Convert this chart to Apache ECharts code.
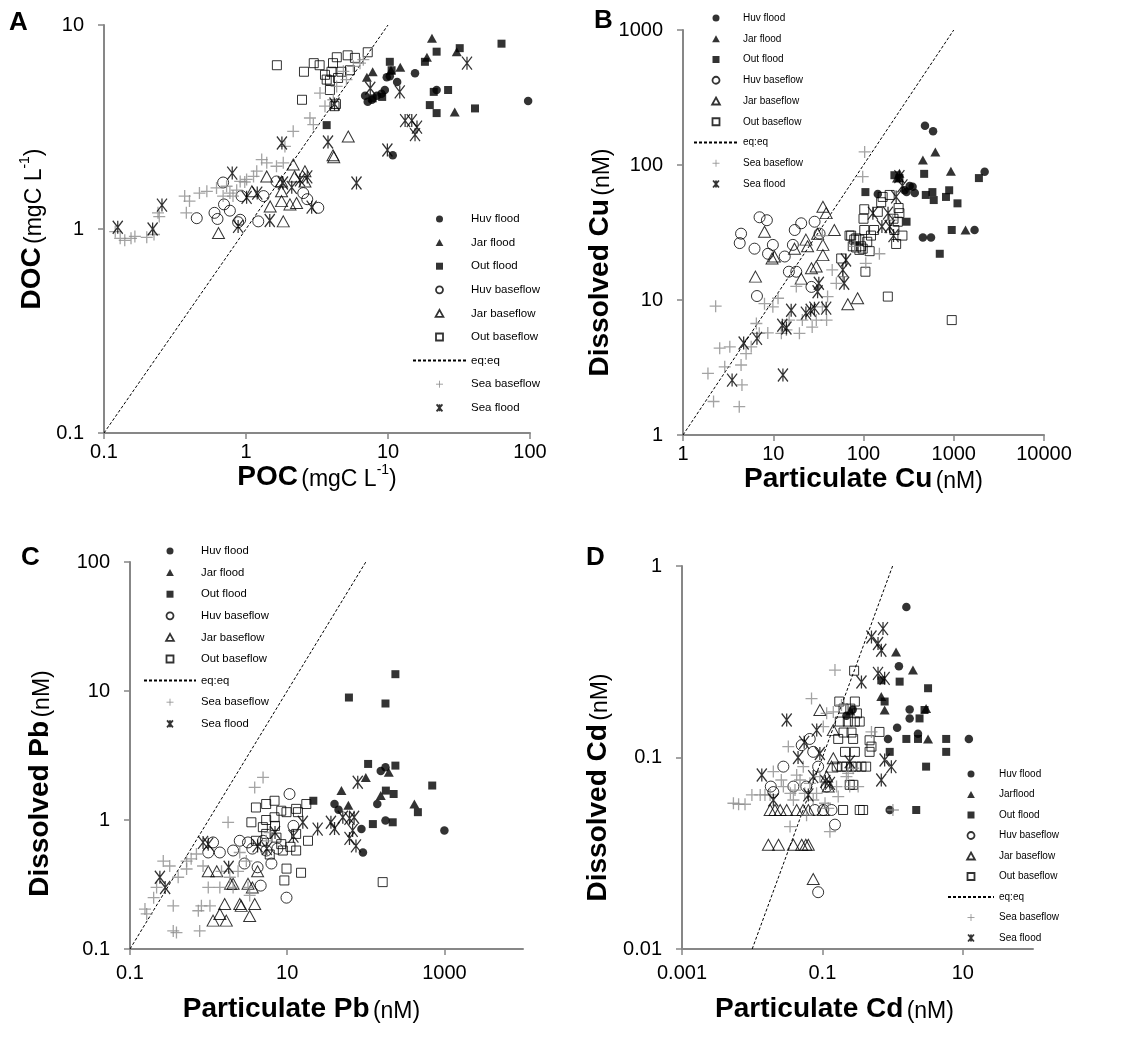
<!DOCTYPE html>
<html><head><meta charset="utf-8">
<script src="https://cdn.jsdelivr.net/npm/echarts@6/dist/echarts.min.js"></script>
<style>html,body{margin:0;padding:0;background:#fff}#c{width:1142px;height:1044px}</style>
</head><body><div id="c"></div>
<script>
// ---------- Panel A : POC vs DOC (mgC L-1) ----------
const A_huvFlood = [[15.5,5.8],[11.6,5.25],[9.8,5.55],[9.5,4.8],[8.35,4.5],[6.9,4.5],[7.2,4.2],[7.7,4.3],[10.8,2.3],[22,4.8],[97,4.24],[10.3,5.6],[9.0,4.6]];
const A_jarFlood = [[20.4,8.6],[18.8,6.95],[30.5,7.4],[12.2,6.2],[7.8,5.9],[7.1,5.55],[29.5,3.75],[10.5,6.0]];
const A_outFlood = [[3.7,3.23],[7.8,4.37],[9.1,4.44],[10.3,6.6],[10.6,6.0],[18.2,6.6],[22,7.4],[32,7.7],[63,8.1],[21,4.7],[26.5,4.8],[19.7,4.05],[22,3.7],[41,3.9]];
const A_huvBase = [[0.45,1.13],[0.6,1.2],[0.63,1.12],[0.7,1.32],[0.77,1.23],[0.69,1.69],[0.93,1.45],[0.91,1.11],[1.22,1.09],[1.33,1.45],[1.64,1.71],[2.53,1.5],[3.23,1.27],[2.7,1.4],[0.88,1.08]];
const A_jarBase = [[0.64,0.955],[1.1,1.53],[1.4,1.81],[1.48,1.29],[1.83,1.09],[1.78,1.53],[1.78,1.37],[1.78,1.71],[2.04,1.32],[2.15,2.07],[2.2,1.81],[2.27,1.34],[2.6,1.92],[2.6,1.71],[4.1,2.3],[4.15,2.25],[5.25,2.84]];
const A_outBase = [[1.65,6.35],[2.56,5.9],[2.48,4.3],[3.0,6.5],[3.3,6.35],[3.6,5.7],[3.9,4.8],[3.9,5.35],[4.2,4.0],[4.36,6.95],[4.45,5.5],[5.2,7.1],[5.85,6.9],[4.7,5.9],[4.0,5.9],[4.1,6.5],[7.2,7.35],[5.4,6.0],[4.3,4.1],[3.7,5.4]];
const A_seaBase = [[0.12,0.97],[0.13,0.9],[0.14,0.88],[0.155,0.9],[0.165,0.92],[0.2,0.91],[0.225,0.94],[0.245,1.15],[0.24,1.2],[0.37,1.45],[0.4,1.37],[0.38,1.2],[0.47,1.5],[0.53,1.53],[0.62,1.59],[0.73,1.62],[0.77,1.5],[0.86,1.55],[0.91,1.71],[0.98,1.7],[1.01,1.75],[1.13,1.81],[1.19,1.92],[1.29,2.19],[1.4,2.11],[1.64,2.03],[1.83,2.11],[1.88,2.54],[2.15,3.01],[2.82,3.5],[2.98,3.25],[3.32,4.64],[3.6,4.0],[4.12,4.3],[4.35,5.0],[4.85,5.93],[5.1,5.4],[5.7,6.27],[6.35,6.5],[6.7,6.76],[0.69,1.45],[0.81,1.45]];
const A_seaFlood = [[0.125,1.02],[0.22,1.0],[0.256,1.31],[0.8,1.88],[0.88,1.03],[1.01,1.43],[1.2,1.5],[1.47,1.1],[1.79,2.64],[1.82,1.68],[2.1,1.6],[2.4,1.74],[2.7,1.8],[2.9,1.28],[3.78,2.67],[4.2,4.1],[6.0,1.68],[7.5,4.9],[9.9,2.44],[12.1,4.7],[13.2,3.4],[14.7,3.4],[16,3.16],[15.5,2.9],[36,6.5]];
const A_eq = [[0.1,0.1],[10,10]];

// ---------- Panel B : Cu (nM) ----------
const B_huvFlood = [[480,195],[590,178],[144,61],[300,63],[370,62],[350,69],[455,29],[560,29],[1700,33],[2200,89],[325,70],[285,65]];
const B_jarFlood = [[455,109],[625,125],[930,90],[250,87],[1350,33],[235,80]];
const B_outFlood = [[105,63],[220,84],[250,80],[470,86],[490,60],[580,63],[600,55],[820,58],[890,65],[1100,52],[950,33],[700,22],[1900,80],[300,38]];
const B_huvBase = [[4.4,31],[4.25,26.4],[6.2,24],[7.05,41],[8.5,39],[6.6,10.7],[9.9,25.6],[8.75,22],[13.4,21],[14.9,16.2],[16.5,25.6],[17.3,33],[20.4,37],[18,16.2],[28.7,38],[26.5,12.5],[32.6,31]];
const B_jarBase = [[8.0,32],[6.35,14.9],[9.7,20.3],[17.2,24],[23,28],[24,25],[31,31],[35.5,49],[38.6,44],[47.5,33],[35.5,21.5],[35.5,25.6],[26.5,17.2],[20.4,14.4],[29.9,17.7],[67,9.3],[86,10.3],[10.3,21]];
const B_outBase = [[56.6,20.3],[70,30],[79,28],[76,25],[83,28.6],[90,28],[94,25],[98,24],[102,33],[100,40],[102,47],[105,16.2],[117,23],[157,53],[163,58],[195,60],[186,10.6],[220,33],[230,26],[250,44],[270,30],[245,48],[950,7.1],[121,30],[131,33],[90,23.5],[73,30],[83,24.5],[144,45],[240,38],[215,40],[110,27]];
const B_seaBase = [[1.89,2.86],[2.3,9.0],[2.18,1.77],[2.55,4.4],[3.3,4.5],[2.9,3.2],[4.2,1.62],[4.5,2.35],[4.4,3.3],[5.0,4.0],[5.7,4.5],[6.5,6.7],[7.0,5.66],[8.0,9.4],[8.7,5.7],[9.9,8.9],[11.3,10.3],[12.3,5.66],[14,6.0],[15,7.1],[18,12.6],[19.5,5.66],[21,7.1],[27,6.3],[30,7.1],[35,8.9],[40,10.6],[39,7.1],[45,16.7],[50,13.3],[59,14.9],[98,82],[103,125],[106,18.7],[150,22],[210,39],[35,30],[80,25]];
const B_seaFlood = [[3.5,2.55],[4.7,4.8],[6.6,5.2],[12.6,6.5],[14,6.2],[12.8,2.78],[15.8,8.4],[23,8.0],[26,8.4],[28.6,8.7],[32,13.3],[31,11.5],[38.6,8.7],[59,16.7],[61,13.3],[64,19.8],[127,44],[187,44],[195,35],[230,58],[250,82],[270,70],[160,35],[215,30]];
const B_eq = [[1,1],[1000,1000]];

// ---------- Panel C : Pb (nM) ----------
const C_huvFlood = [[92,0.56],[40,1.33],[140,1.33],[155,2.4],[178,2.56],[178,0.99],[1000,0.83],[88,0.85],[45,1.2]];
const C_jarFlood = [[49,1.69],[100,2.14],[155,1.55],[196,2.34],[415,1.33],[60,1.3]];
const C_outFlood = [[61,8.9],[178,8.0],[238,13.5],[21.5,1.41],[107,2.72],[238,2.64],[180,1.69],[226,1.59],[123,0.93],[220,0.96],[700,1.85],[460,1.15]];
const C_huvBase = [[1.14,0.67],[0.99,0.56],[1.39,0.56],[2.05,0.58],[2.49,0.69],[2.86,0.46],[3.17,0.67],[3.6,0.6],[4.2,0.43],[4.6,0.31],[4.93,0.69],[5.43,0.58],[6.3,0.46],[9.8,0.25],[10.7,1.59],[7.5,0.6],[12,0.9]];
const C_jarBase = [[1.14,0.166],[1.39,0.187],[1.68,0.166],[1.6,0.223],[0.99,0.40],[1.27,0.40],[2.05,0.32],[2.49,0.223],[2.6,0.216],[3.33,0.18],[3.17,0.32],[3.86,0.223],[4.2,0.40],[3.6,0.30],[1.9,0.32]];
const C_outBase = [[3.5,0.96],[4.0,1.25],[5.4,1.33],[6.9,1.41],[8.4,1.18],[9.8,1.15],[13,1.22],[17.5,1.33],[13.7,1.15],[5.4,1.0],[4.9,0.88],[5.4,0.78],[7.3,0.73],[8.4,0.65],[8.8,0.58],[9.8,0.42],[9.2,0.34],[15,0.39],[13,0.58],[13,0.78],[18.4,0.69],[6,0.54],[4,0.69],[6.9,1.05],[11,0.62],[7,0.9],[164,0.33]];
const C_seaBase = [[0.155,0.204],[0.163,0.187],[0.218,0.30],[0.265,0.48],[0.32,0.44],[0.355,0.216],[0.355,0.138],[0.39,0.134],[0.41,0.36],[0.525,0.417],[0.525,0.48],[0.70,0.545],[0.74,0.198],[0.77,0.138],[0.81,0.216],[0.85,0.44],[0.99,0.30],[1.04,0.216],[1.39,0.30],[1.46,0.40],[1.77,0.96],[1.86,0.36],[2.05,0.30],[2.37,0.40],[2.49,0.56],[3.02,0.48],[3.17,0.30],[3.33,0.26],[3.86,1.79],[4.93,2.14],[5.43,0.69],[5.99,0.80],[0.6,0.5],[0.2,0.25]];
const C_seaFlood = [[0.24,0.36],[0.28,0.30],[0.85,0.67],[0.99,0.65],[1.8,0.43],[4.2,0.63],[5.5,0.6],[7,0.8],[12,0.75],[15.8,0.96],[24.4,0.85],[36,0.96],[40,0.86],[51,1.05],[62,1.03],[71,1.05],[62,0.72],[75,0.63],[68,0.83],[79,1.96]];
const C_eq = [[0.1,0.1],[100,100]];

// ---------- Panel D : Cd (nM) ----------
const D_huvFlood = [[1.57,0.611],[1.23,0.30],[1.75,0.178],[1.75,0.16],[1.16,0.143],[0.86,0.125],[2.3,0.133],[12.2,0.125],[0.91,0.0532],[0.27,0.178],[0.22,0.165]];
const D_jarFlood = [[1.12,0.356],[1.95,0.286],[0.69,0.208],[0.77,0.177],[3.2,0.125],[3.0,0.18],[0.25,0.175]];
const D_outFlood = [[0.69,0.253],[0.77,0.196],[1.26,0.249],[3.2,0.23],[2.42,0.16],[2.85,0.177],[0.91,0.107],[1.57,0.125],[2.3,0.125],[5.8,0.125],[5.8,0.107],[3.0,0.0896],[2.17,0.0532]];
const D_huvBase = [[0.0184,0.0705],[0.0278,0.0896],[0.0386,0.0705],[0.0507,0.116],[0.066,0.125],[0.074,0.107],[0.087,0.0896],[0.059,0.0705],[0.103,0.0532],[0.135,0.0532],[0.151,0.0446],[0.087,0.0198],[0.078,0.0532],[0.115,0.0705],[0.02,0.066]];
const D_jarBase = [[0.017,0.035],[0.0237,0.035],[0.0386,0.035],[0.0507,0.035],[0.063,0.035],[0.058,0.035],[0.018,0.0532],[0.0211,0.0532],[0.025,0.0532],[0.031,0.0532],[0.053,0.0532],[0.063,0.0532],[0.092,0.177],[0.143,0.139],[0.143,0.099],[0.135,0.0896],[0.115,0.0795],[0.121,0.0705],[0.074,0.0232],[0.103,0.0532],[0.043,0.0532]];
const D_outBase = [[0.283,0.284],[0.174,0.196],[0.29,0.196],[0.2,0.18],[0.25,0.18],[0.177,0.154],[0.23,0.154],[0.29,0.154],[0.34,0.154],[0.168,0.125],[0.274,0.125],[0.47,0.123],[0.65,0.136],[0.50,0.114],[0.21,0.107],[0.29,0.107],[0.47,0.107],[0.16,0.0896],[0.19,0.0896],[0.22,0.0896],[0.26,0.0896],[0.3,0.0896],[0.36,0.0896],[0.42,0.0896],[0.245,0.072],[0.274,0.072],[0.197,0.0532],[0.34,0.0532],[0.38,0.0532],[0.2,0.135],[0.26,0.135],[0.31,0.17]];
const D_seaBase = [[0.0054,0.0577],[0.0064,0.057],[0.0079,0.057],[0.0099,0.0638],[0.013,0.0638],[0.0152,0.0638],[0.018,0.0638],[0.020,0.0844],[0.026,0.0763],[0.0278,0.0705],[0.0327,0.114],[0.0346,0.0436],[0.0386,0.06],[0.0407,0.0676],[0.043,0.081],[0.048,0.0763],[0.0534,0.0896],[0.056,0.065],[0.0595,0.05],[0.0664,0.0733],[0.070,0.203],[0.074,0.06],[0.0826,0.065],[0.092,0.0795],[0.103,0.145],[0.109,0.0577],[0.115,0.17],[0.121,0.0543],[0.128,0.041],[0.143,0.173],[0.151,0.286],[0.159,0.0705],[0.168,0.0625],[0.187,0.188],[0.22,0.0795],[0.233,0.0827],[0.245,0.0705],[0.274,0.0879],[0.323,0.0705],[0.50,0.136],[1.01,0.0532],[0.035,0.065]];
const D_seaFlood = [[0.0137,0.081],[0.020,0.060],[0.031,0.157],[0.045,0.1],[0.063,0.0638],[0.083,0.139],[0.074,0.0795],[0.092,0.105],[0.128,0.0733],[0.245,0.095],[0.36,0.248],[0.50,0.426],[0.62,0.394],[0.69,0.363],[0.73,0.471],[0.62,0.275],[0.77,0.259],[0.77,0.097],[0.96,0.0896],[0.69,0.0763],[0.11,0.075],[0.055,0.12]];
const D_eq = [[0.01,0.01],[1,1]];

// legend labels
const legendA = ['Huv flood','Jar flood','Out flood','Huv baseflow','Jar baseflow','Out baseflow','eq:eq','Sea baseflow','Sea flood'];
const legendD = ['Huv flood','Jarflood','Out flood','Huv baseflow','Jar baseflow','Out baseflow','eq:eq','Sea baseflow','Sea flood'];
// axis ranges / tick labels
const xRanges = [[0.1,100],[1,10000],[0.1,10000],[0.001,100]];
const yRanges = [[0.1,10],[1,1000],[0.1,100],[0.01,1]];
const xIntervals = [1,1,2,2];
const showXMax = [true,true,false,false];
const panelLetters = ['A','B','C','D'];

const FONT = '"Liberation Sans", Arial, Helvetica, sans-serif';
const ASTER = 'path://M0,0L10,12M10,0L0,12M5,0L5,12';
const PLUS = 'path://M5,0L5,10M0,5L10,5';
const TRI = 'path://M5,0L10,9L0,9Z';
const SQR = 'path://M0,0L10,0L10,10L0,10Z';
const OPEN = 'rgba(0,0,0,0)';
const STY = {
  'Huv flood':    {symbol:'circle', symbolSize:8.5, itemStyle:{color:'#000'}},
  'Jar flood':    {symbol:'triangle', symbolSize:[10,9], legendIcon:TRI, itemStyle:{color:'#000'}},
  'Out flood':    {symbol:'rect', symbolSize:8, legendIcon:SQR, itemStyle:{color:'#000'}},
  'Huv baseflow': {symbol:'circle', symbolSize:11, itemStyle:{color:OPEN, borderColor:'#000', borderWidth:1}},
  'Jar baseflow': {symbol:'triangle', symbolSize:[12,11], legendIcon:TRI, itemStyle:{color:OPEN, borderColor:'#000', borderWidth:1}},
  'Out baseflow': {symbol:'rect', symbolSize:9, legendIcon:SQR, itemStyle:{color:OPEN, borderColor:'#000', borderWidth:1}},
  'Sea baseflow': {symbol:PLUS, symbolSize:12, itemStyle:{color:OPEN, borderColor:'#8c8c8c', borderWidth:1.3}},
  'Sea flood':    {symbol:ASTER, symbolSize:[12,13], itemStyle:{color:OPEN, borderColor:'#000', borderWidth:1.3}}
};

const panelData = [
  {names:legendA, sets:[A_huvFlood,A_jarFlood,A_outFlood,A_huvBase,A_jarBase,A_outBase,A_eq,A_seaBase,A_seaFlood]},
  {names:legendA, sets:[B_huvFlood,B_jarFlood,B_outFlood,B_huvBase,B_jarBase,B_outBase,B_eq,B_seaBase,B_seaFlood]},
  {names:legendA, sets:[C_huvFlood,C_jarFlood,C_outFlood,C_huvBase,C_jarBase,C_outBase,C_eq,C_seaBase,C_seaFlood]},
  {names:legendD, sets:[D_huvFlood,D_jarFlood,D_outFlood,D_huvBase,D_jarBase,D_outBase,D_eq,D_seaBase,D_seaFlood]}
];

// layout
const grids = [
  {left:104, top:25, width:426, height:408},
  {left:683, top:30, width:361, height:405},
  {left:130, top:562, width:393, height:387},
  {left:682, top:566, width:351, height:383}
];
const legendPos = [
  {left:412, top:212, itemWidth:53, itemGap:9.6, fontSize:11.5},
  {left:693, top:11, itemWidth:44, itemGap:6.75, fontSize:10},
  {left:143, top:544, itemWidth:52, itemGap:7.6, fontSize:11.3},
  {left:947, top:767, itemWidth:46, itemGap:6.5, fontSize:10}
];
const letterPos = [[9,10],[594,8],[21,545],[586,545]];
const xNames = ['{b|POC} {n|(mgC L}{s|-1}{n|)}','{b|Particulate Cu} {n|(nM)}','{b|Particulate Pb} {n|(nM)}','{b|Particulate Cd} {n|(nM)}'];
const yNames = ['{b|DOC} {n|(mgC L}{s|-1}{n|)}','{b|Dissolved Cu} {n|(nM)}','{b|Dissolved Pb} {n|(nM)}','{b|Dissolved Cd} {n|(nM)}'];
const xNameGap = [28,28,46,46];
const xNamePad = [[0,0,0,0],[0,0,0,0],[0,50,0,0],[0,46,0,0]];
const yNameGap = [58,62,76,70];
const yNamePad = [[0,0,0,0],[0,60,0,0],[0,56,0,0],[0,60,0,0]];
const xLabelMargin = [9,9,14,14];

const rich = {
  b:{fontFamily:FONT, fontSize:28, fontWeight:'bold', color:'#000', verticalAlign:'bottom'},
  n:{fontFamily:FONT, fontSize:23, color:'#000', verticalAlign:'bottom'},
  s:{fontFamily:FONT, fontSize:14, color:'#000', verticalAlign:'top'}
};
const fmt = v => String(parseFloat(Number(v).toPrecision(6)));
const AXC = '#878787';

const option = {animation:false, backgroundColor:'#fff', title:[], grid:[], xAxis:[], yAxis:[], legend:[], series:[]};
for (let p = 0; p < 4; p++) {
  option.grid.push(Object.assign({containLabel:false}, grids[p]));
  option.title.push({text:panelLetters[p], left:letterPos[p][0], top:letterPos[p][1], padding:0,
    textStyle:{fontFamily:FONT, fontSize:26, fontWeight:'bold', color:'#000'}});
  const axBase = {
    type:'log', logBase:10, gridIndex:p,
    axisLine:{show:true, lineStyle:{color:AXC, width:2}},
    axisTick:{show:true, inside:false, length:6, lineStyle:{color:AXC, width:1.5}},
    minorTick:{show:false}, splitLine:{show:false}, minorSplitLine:{show:false},
    nameLocation:'middle'
  };
  option.xAxis.push(Object.assign({}, axBase, {
    min:xRanges[p][0], max:xRanges[p][1], interval:xIntervals[p],
    name:xNames[p], nameGap:xNameGap[p],
    nameTextStyle:{rich:rich, padding:xNamePad[p]},
    axisLabel:{fontFamily:FONT, fontSize:20, color:'#000', margin:xLabelMargin[p], formatter:fmt, showMaxLabel:showXMax[p]}
  }));
  option.yAxis.push(Object.assign({}, axBase, {
    min:yRanges[p][0], max:yRanges[p][1], interval:1,
    name:yNames[p], nameGap:yNameGap[p], nameRotate:90,
    nameTextStyle:{rich:rich, padding:yNamePad[p]},
    axisLabel:{fontFamily:FONT, fontSize:20, color:'#000', margin:20, formatter:fmt}
  }));
  const names = panelData[p].names;
  const legendItems = [];
  names.forEach((nm, i) => {
    const data = panelData[p].sets[i];
    if (nm === 'eq:eq') {
      option.series.push({name:nm, type:'line', xAxisIndex:p, yAxisIndex:p, data:data, symbol:'none',
        silent:true, z:1, itemStyle:{color:'#000'}, lineStyle:{color:'#000', width:1, type:[3,2]}});
      legendItems.push({name:nm, itemStyle:{opacity:0}});
    } else {
      const key = nm === 'Jarflood' ? 'Jar flood' : nm;
      const st = STY[key];
      option.series.push({name:nm, type:'scatter', xAxisIndex:p, yAxisIndex:p, data:data,
        symbol:st.symbol, symbolSize:st.symbolSize, symbolKeepAspect:true, itemStyle:st.itemStyle, silent:true, z:2});
      const lw = key === 'Sea baseflow' ? 1 : (st.itemStyle.borderWidth ? 1.8 : 0);
      const item = {name:nm, itemStyle:{borderWidth:lw}};
      if (st.legendIcon) item.icon = st.legendIcon;
      legendItems.push(item);
    }
  });
  option.legend.push({
    orient:'vertical', left:legendPos[p].left, top:legendPos[p].top, padding:0,
    itemWidth:legendPos[p].itemWidth, itemHeight:7, itemGap:legendPos[p].itemGap,
    symbolKeepAspect:true,
    selectedMode:false, data:legendItems,
    textStyle:{fontFamily:FONT, fontSize:legendPos[p].fontSize, color:'#000', lineHeight:14}
  });
}
const chart = echarts.init(document.getElementById('c'), null, {renderer:'canvas'});
chart.setOption(option);
</script>
</body></html>
